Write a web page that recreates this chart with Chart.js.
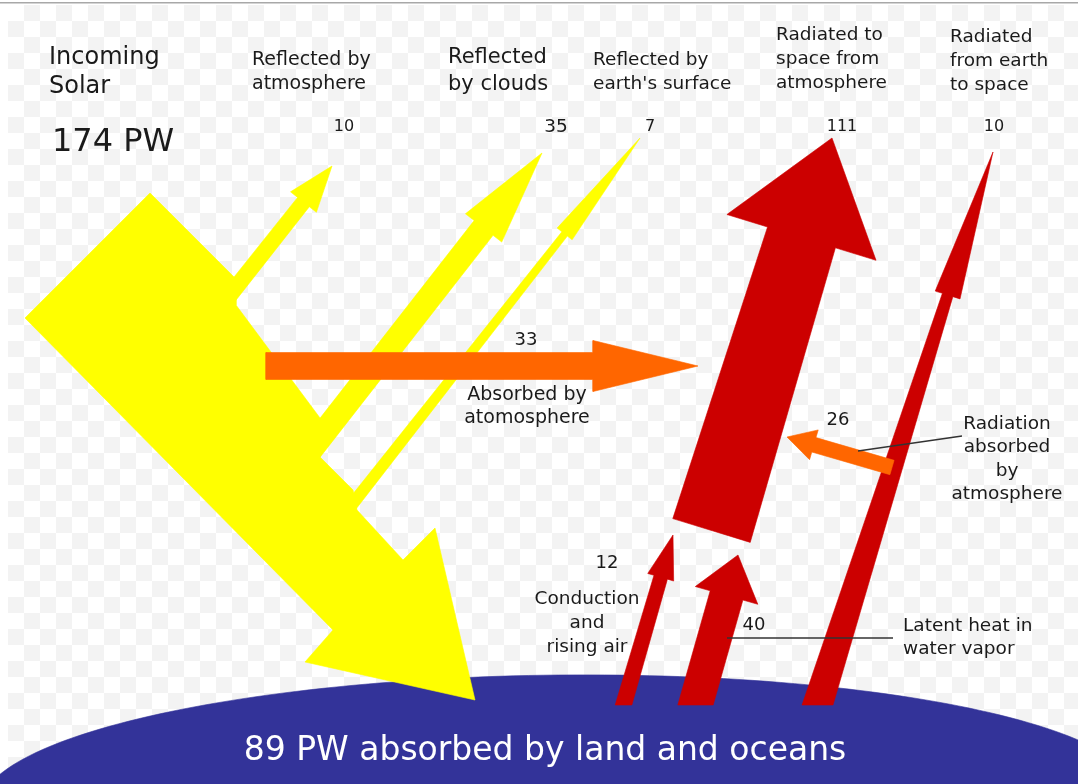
<!DOCTYPE html>
<html><head><meta charset="utf-8">
<script src="https://cdn.jsdelivr.net/npm/chart.js@4.4.1/dist/chart.umd.min.js"></script>
<style>html,body{margin:0;padding:0;background:#fff;overflow:hidden}canvas{display:block}</style>
</head><body>
<canvas id="c" width="1078" height="784"></canvas>
<script>
// ---------- DATA (PW) ----------
const incomingLabel = ['Incoming', 'Solar'];
const incomingValue = 174;
const reflectedLabels = [['Reflected by', 'atmosphere'], ['Reflected', 'by clouds'], ['Reflected by', "earth's surface"]];
const reflectedValues = [10, 35, 7];
const radiatedLabels = [['Radiated to', 'space from', 'atmosphere'], ['Radiated', 'from earth', 'to space']];
const radiatedValues = [111, 10];
const absorbedAtmLabel = ['Absorbed by', 'atomosphere'];
const absorbedAtmValue = 33;
const radAbsorbedLabel = ['Radiation', 'absorbed', 'by', 'atmosphere'];
const radAbsorbedValue = 26;
const surfaceFluxLabels = [['Conduction', 'and', 'rising air'], ['Latent heat in', 'water vapor']];
const surfaceFluxValues = [12, 40];
const surfaceAbsorbedValue = 89;
const surfaceAbsorbedText = 'PW absorbed by land and oceans';
const unit = 'PW';

// ---------- LAYOUT (diagram coordinates, y downward) ----------
const COLORS = {yellow: '#ffff00', orange: '#ff6600', red: '#cc0000', earth: '#333399', text: '#1a1a1a', line: '#333333'};
const earthShape = {cx: 560, cy: 802, rx: 580, ry: 127, rot: -0.01};
const solarBodyOutline = [[25,318],[150,193],[236,279],[236,305],[320,418],[320,457],[353,490],[357,510],[403,560],[435,528],[475,700],[305,662],[333,630]];
const reflectedArrows = [
  {base:[222,305], tip:[332,166], w0:16, w1:15, hw:33, hl:46},
  {base:[305,457], tip:[542,153], w0:24, w1:24, hw:46, hl:95},
  {base:[343,516], tip:[640,138], w0:12, w1:7, hw:19, hl:122}
];
const radiatedArrows = [
  {base:[711.5,530.5], tip:[832,138], w0:81, w1:71, hw:156, hl:104},
  {base:[817.5,705], tip:[993,152], w0:29.5, w1:11, hw:26, hl:150, flat:true}
];
const surfaceArrows = [
  {base:[623.5,705], tip:[673,535], w0:16, w1:14, hw:27, hl:44, flat:true},
  {base:[695.5,705], tip:[738,555], w0:34, w1:34, hw:65, hl:42, flat:true}
];
const absorbedArrow = {base:[266,366], tip:[698,366], w0:27, w1:27, hw:51, hl:105};
const radAbsorbedArrow = {base:[892,467.5], tip:[787,437], w0:15, w1:15, hw:31, hl:28};
const leaderLines = [[[858,451],[962,436]], [[727,638],[893,638]]];

function arrowPolygon(a) {
  const dx = a.tip[0]-a.base[0], dy = a.tip[1]-a.base[1], L = Math.hypot(dx, dy);
  const ux = dx/L, uy = dy/L, nx = -uy, ny = ux;
  const hb = [a.tip[0]-ux*a.hl, a.tip[1]-uy*a.hl];
  const pt = (p, s, w) => ({x: p[0]+nx*s*w/2, y: p[1]+ny*s*w/2});
  let b1 = pt(a.base, 1, a.w0), b2 = pt(a.base, -1, a.w0);
  if (a.flat) {
    const f = q => { const t = (a.base[1]-q.y)/uy; return {x: q.x+ux*t, y: a.base[1]}; };
    b1 = f(b1); b2 = f(b2);
  }
  return [b1, pt(hb,1,a.w1), pt(hb,1,a.hw), {x:a.tip[0], y:a.tip[1]}, pt(hb,-1,a.hw), pt(hb,-1,a.w1), b2, b1];
}
function outline(pts) { const r = pts.map(p => ({x:p[0], y:p[1]})); r.push(r[0]); return r; }
function ellipsePts(e) {
  const r = [], c = Math.cos(e.rot), s = Math.sin(e.rot);
  for (let i = 0; i <= 240; i++) {
    const a = i/240*2*Math.PI, px = e.rx*Math.cos(a), py = e.ry*Math.sin(a);
    r.push({x: e.cx + px*c - py*s, y: e.cy + px*s + py*c});
  }
  return r;
}
function shape(data, color) {
  return {data, backgroundColor: color, borderColor: color, borderWidth: 0.6, fill: 'shape', pointRadius: 0, tension: 0};
}
function stroke(data, color) {
  return {data, backgroundColor: color, borderColor: color, borderWidth: 1.3, fill: false, pointRadius: 0, tension: 0};
}

// bottom -> top
const layers = [
  shape(ellipsePts(earthShape), COLORS.earth),
  shape(outline(solarBodyOutline), COLORS.yellow),
  ...reflectedArrows.map(a => shape(arrowPolygon(a), COLORS.yellow)),
  ...radiatedArrows.map(a => shape(arrowPolygon(a), COLORS.red)),
  ...surfaceArrows.map(a => shape(arrowPolygon(a), COLORS.red)),
  shape(arrowPolygon(absorbedArrow), COLORS.orange),
  shape(arrowPolygon(radAbsorbedArrow), COLORS.orange),
  ...leaderLines.map(l => stroke(outline(l).slice(0,2), COLORS.line))
];
const datasets = layers.map((d, i) => Object.assign(d, {order: layers.length - i}));

// ---------- TEXT ----------
const F = 'DejaVu Sans, Verdana, sans-serif';
function block(lines, x, y0, dy, size, align) { return lines.map((t, i) => ({t, x, y: y0+i*dy, size, align})); }
const texts = [
  ...block(incomingLabel, 49, 58, 29, 24, 'left'),
  {t: incomingValue + ' ' + unit, x: 52, y: 143, size: 32, align: 'left'},
  ...block(reflectedLabels[0], 252, 60, 24, 19, 'left'),
  ...block(reflectedLabels[1], 448, 58, 27, 21, 'left'),
  ...block(reflectedLabels[2], 593, 60, 24, 18.5, 'left'),
  ...block(radiatedLabels[0], 776, 35, 24, 18.5, 'left'),
  ...block(radiatedLabels[1], 950, 37, 24, 18.5, 'left'),
  {t: String(reflectedValues[0]), x: 344, y: 127, size: 16, align: 'center'},
  {t: String(reflectedValues[1]), x: 556, y: 127, size: 18.5, align: 'center'},
  {t: String(reflectedValues[2]), x: 650, y: 127, size: 16, align: 'center'},
  {t: String(radiatedValues[0]), x: 842, y: 127, size: 16, align: 'center'},
  {t: String(radiatedValues[1]), x: 994, y: 127, size: 16, align: 'center'},
  {t: String(absorbedAtmValue), x: 526, y: 340, size: 18, align: 'center'},
  ...block(absorbedAtmLabel, 527, 395, 23, 19, 'center'),
  {t: String(radAbsorbedValue), x: 838, y: 420, size: 18, align: 'center'},
  ...block(radAbsorbedLabel, 1007, 424, 23.5, 18.5, 'center'),
  {t: String(surfaceFluxValues[0]), x: 607, y: 563, size: 18, align: 'center'},
  ...block(surfaceFluxLabels[0], 587, 599, 24, 18.5, 'center'),
  {t: String(surfaceFluxValues[1]), x: 754, y: 625, size: 18, align: 'center'},
  ...block(surfaceFluxLabels[1], 903, 626, 23, 18.5, 'left'),
  {t: surfaceAbsorbedValue + ' ' + surfaceAbsorbedText, x: 545, y: 751, size: 33, align: 'center', color: '#ffffff'}
];

const bgPlugin = {
  id: 'bg',
  beforeDraw(chart) {
    const ctx = chart.ctx, X = chart.scales.x, Y = chart.scales.y;
    ctx.save();
    ctx.fillStyle = '#ffffff';
    ctx.fillRect(0, 0, chart.width, chart.height);
    ctx.fillStyle = '#f3f3f3';
    const s = 16;
    for (let gy = 0; gy * s + 5 < 784; gy++) {
      for (let gx = 0; gx * s + 8 < 1078; gx++) {
        if ((gx + gy) % 2 === 1) {
          const x0 = X.getPixelForValue(8 + gx*s), y0 = Y.getPixelForValue(5 + gy*s);
          ctx.fillRect(x0, y0, X.getPixelForValue(8 + (gx+1)*s) - x0, Y.getPixelForValue(5 + (gy+1)*s) - y0);
        }
      }
    }
    ctx.fillStyle = '#a8a8a8';
    ctx.fillRect(0, Y.getPixelForValue(2), chart.width, 1.5);
    ctx.restore();
  }
};
const textPlugin = {
  id: 'texts',
  afterDatasetsDraw(chart) {
    const ctx = chart.ctx, X = chart.scales.x, Y = chart.scales.y;
    ctx.save();
    ctx.textBaseline = 'middle';
    for (const t of texts) {
      ctx.font = t.size + 'px ' + F;
      ctx.fillStyle = t.color || COLORS.text;
      ctx.textAlign = t.align;
      ctx.fillText(t.t, X.getPixelForValue(t.x), Y.getPixelForValue(t.y));
    }
    ctx.restore();
  }
};

new Chart(document.getElementById('c'), {
  type: 'line',
  data: {datasets},
  options: {
    responsive: false,
    animation: false,
    events: [],
    layout: {padding: 0},
    clip: false,
    scales: {
      x: {type: 'linear', min: 0, max: 1078, display: false},
      y: {type: 'linear', min: 0, max: 784, reverse: true, display: false}
    },
    plugins: {legend: {display: false}, tooltip: {enabled: false}}
  },
  plugins: [bgPlugin, textPlugin]
});
</script>
</body></html>
